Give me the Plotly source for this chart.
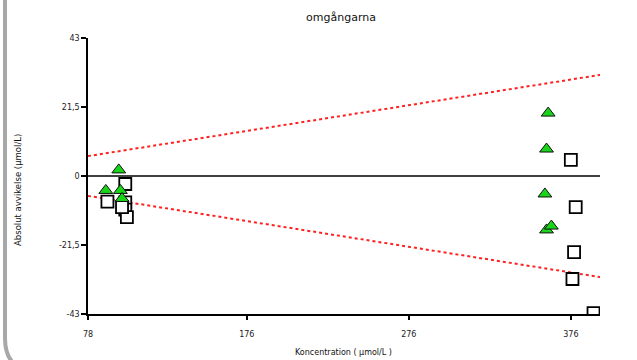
import plotly.graph_objects as go

# Data
tri_x = [89, 97, 98, 99, 362, 361, 360, 361, 364]
tri_y = [-4.5, 1.9, -4.5, -7.0, 19.6, 8.4, -5.6, -16.8, -15.6]
sq_x = [90, 101, 101, 101, 102, 99, 376, 379, 378, 377, 390]
sq_y = [-8.0, -2.5, -8.2, -10.5, -12.8, -9.7, 5.0, -9.7, -23.7, -32.1, -42.7]
lim_x = [78, 394]
lim_upper = [6.2, 31.5]
lim_lower = [-6.2, -31.5]
zero_x = [78, 394]
zero_y = [0, 0]
x_ticks = [78, 176, 276, 376]
y_ticks = [43, 21.5, 0, -21.5, -43]
y_labels = ["43", "21,5", "0", "-21,5", "-43"]

FONT = "DejaVu Sans, Liberation Sans, Arial"

fig = go.Figure()
fig.add_trace(go.Scatter(x=zero_x, y=zero_y, mode="lines",
                         line=dict(color="black", width=1.5), hoverinfo="skip"))
fig.add_trace(go.Scatter(x=lim_x, y=lim_upper, mode="lines",
                         line=dict(color="#ff2020", width=2, dash="dot")))
fig.add_trace(go.Scatter(x=lim_x, y=lim_lower, mode="lines",
                         line=dict(color="#ff2020", width=2, dash="dot")))
fig.add_trace(go.Scatter(x=sq_x, y=sq_y, mode="markers",
                         marker=dict(symbol="square", size=12, color="white",
                                     line=dict(color="black", width=1.8))))
fig.add_trace(go.Scatter(x=tri_x, y=tri_y, mode="markers",
                         marker=dict(symbol="triangle-up", size=12, color="#19d419",
                                     line=dict(color="#111", width=1))))

W, H = 637, 360
L, R, T, B = 88, 37, 38, 46
pw, ph = W - L - R, H - T - B


def px(x):
    return (x - L) / pw


def py(y):
    return (H - B - y) / ph


border = (f"M {px(5)},{py(-10)} L {px(5)},{py(338)} "
          f"Q {px(5)},{py(366)} {px(28)},{py(370)} L {px(700)},{py(370)}")

fig.update_layout(
    width=W, height=H,
    margin=dict(l=L, r=R, t=T, b=B, autoexpand=False),
    paper_bgcolor="white", plot_bgcolor="white",
    showlegend=False,
    font=dict(family=FONT, size=8, color="#222"),
    title=dict(text="omgångarna", xref="container", x=341 / W, xanchor="center",
               yref="container", y=1 - 17 / H, yanchor="middle",
               font=dict(family=FONT, size=11, color="#111")),
    xaxis=dict(range=[78, 394], tickvals=x_ticks, ticktext=[str(v) for v in x_ticks],
               showgrid=False, zeroline=False, showline=True, linecolor="black",
               linewidth=1.5, ticks="outside", ticklen=4, tickcolor="black",
               tickwidth=1.5, automargin=False, ticklabelstandoff=8,
               tickfont=dict(family=FONT, size=8, color="#222")),
    yaxis=dict(range=[-43, 43], tickvals=y_ticks, ticktext=y_labels,
               showgrid=False, zeroline=False, showline=True, linecolor="black",
               linewidth=1.5, ticks="outside", ticklen=5, tickcolor="black",
               tickwidth=1.5, automargin=False,
               tickfont=dict(family=FONT, size=8, color="#222")),
    annotations=[
        dict(text="Koncentration ( µmol/L )", xref="paper", yref="paper",
             x=px(343), y=py(352), xanchor="center", yanchor="middle",
             showarrow=False, font=dict(family=FONT, size=8, color="#111")),
        dict(text="Absolut avvikelse (µmol/L)", xref="paper", yref="paper",
             x=px(18), y=py(190), xanchor="center", yanchor="middle",
             textangle=-90, showarrow=False,
             font=dict(family=FONT, size=8.5, color="#111")),
    ],
    shapes=[dict(type="path", path=border, xref="paper", yref="paper",
                 line=dict(color="#a8a8a8", width=4), layer="above")],
)

fig.write_html("out.html", config={"displayModeBar": False},
               post_script="document.body.style.margin='0';")
